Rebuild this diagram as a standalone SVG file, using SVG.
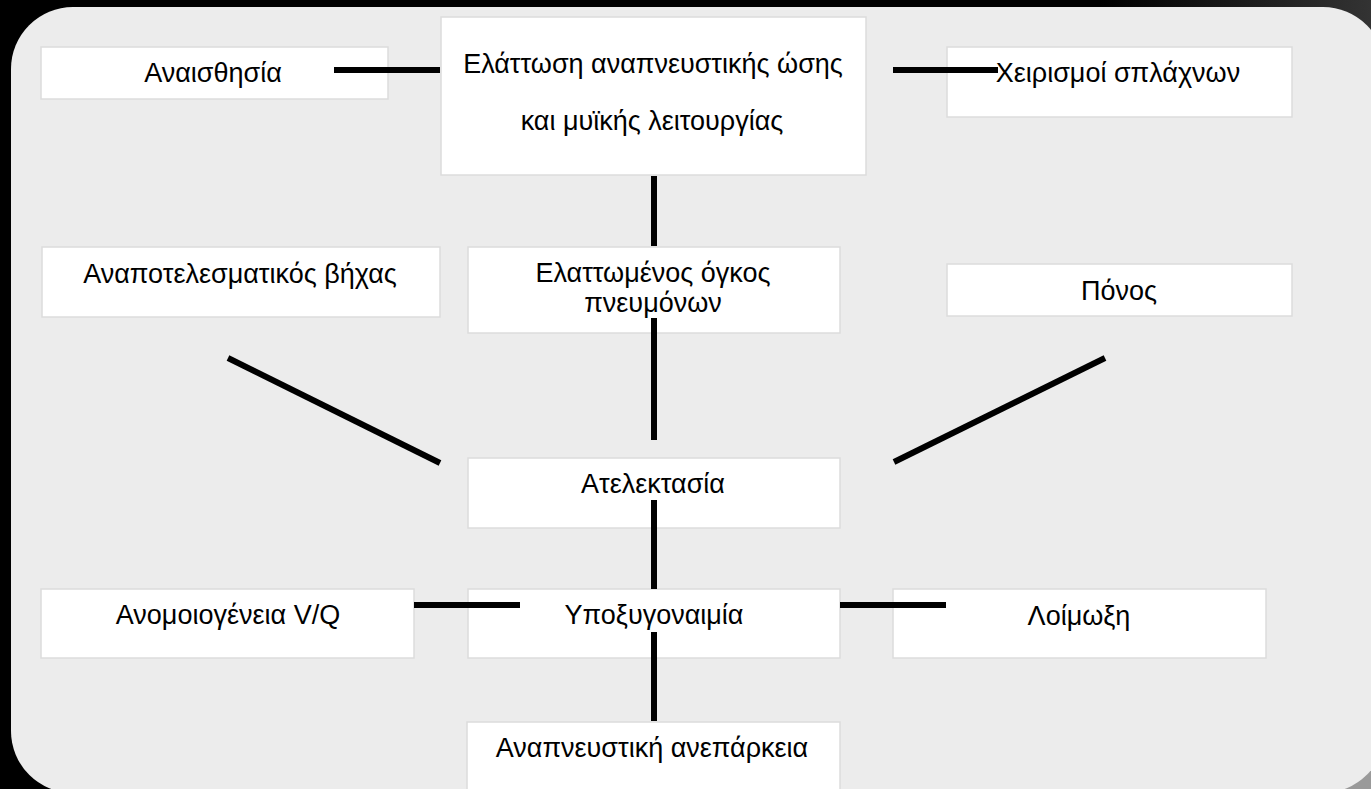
<svg xmlns="http://www.w3.org/2000/svg" width="1371" height="789" viewBox="0 0 1371 789">
<defs>
<linearGradient id="tr" x1="0" y1="0" x2="1" y2="0">
<stop offset="0" stop-color="#000"/><stop offset="1" stop-color="#333"/>
</linearGradient>
</defs>
<style>
.box{fill:#fff;stroke:#dcdcdc;stroke-width:1.5}
.t{font-family:"Liberation Sans",Arial,sans-serif;font-size:27px;fill:#000;text-anchor:middle}
.c line{stroke:#000;stroke-width:6}
</style>
<rect x="0" y="0" width="1371" height="789" fill="#000"/>
<rect x="1100" y="0" width="271" height="120" fill="url(#tr)"/>
<rect x="1250" y="700" width="121" height="89" fill="#9a9a9a"/>
<rect x="11" y="7" width="1374" height="786" rx="62" ry="62" fill="#ececec"/>

<g id="n-anaisthisia"><rect class="box" x="41" y="47" width="347" height="52"/><text class="t" x="213" y="82">Αναισθησία</text></g>
<g id="n-elattosi"><rect class="box" x="441" y="17" width="425" height="158"/><text class="t" x="653" y="73">Ελάττωση αναπνευστικής ώσης</text><text class="t" x="652" y="130">και μυϊκής λειτουργίας</text></g>
<g id="n-cheirismoi"><rect class="box" x="947" y="47" width="345" height="70"/><text class="t" x="1118" y="82">Χειρισμοί σπλάχνων</text></g>
<g id="n-vichas"><rect class="box" x="42" y="247" width="398" height="70"/><text class="t" x="240" y="283">Αναποτελεσματικός βήχας</text></g>
<g id="n-ogkos"><rect class="box" x="468" y="247" width="372" height="86"/><text class="t" x="653" y="282">Ελαττωμένος όγκος</text><text class="t" x="653" y="312">πνευμόνων</text></g>
<g id="n-ponos"><rect class="box" x="947" y="264" width="345" height="52"/><text class="t" x="1119" y="300">Πόνος</text></g>
<g id="n-atelektasia"><rect class="box" x="468" y="458" width="372" height="70"/><text class="t" x="653" y="493">Ατελεκτασία</text></g>
<g id="n-vq"><rect class="box" x="41" y="589" width="373" height="69"/><text class="t" x="228" y="624">Ανομοιογένεια V/Q</text></g>
<g id="n-ypoxyg"><rect class="box" x="468" y="589" width="372" height="69"/><text class="t" x="654" y="624">Υποξυγοναιμία</text></g>
<g id="n-loimoxi"><rect class="box" x="893" y="589" width="373" height="69"/><text class="t" x="1079" y="625">Λοίμωξη</text></g>
<g id="n-aneparkeia"><rect class="box" x="467" y="722" width="373" height="80"/><text class="t" x="652" y="757">Αναπνευστική ανεπάρκεια</text></g>

<g id="connectors" class="c">
<line x1="334" y1="70" x2="440" y2="70"/>
<line x1="893" y1="70" x2="998" y2="70"/>
<line x1="654" y1="176" x2="654" y2="246"/>
<line x1="654" y1="318" x2="654" y2="440"/>
<line x1="228" y1="358" x2="440" y2="463"/>
<line x1="1105" y1="358" x2="894" y2="462"/>
<line x1="654" y1="500" x2="654" y2="589"/>
<line x1="414" y1="605" x2="520" y2="605"/>
<line x1="840" y1="605" x2="946" y2="605"/>
<line x1="654" y1="632" x2="654" y2="721"/>
</g>
</svg>
